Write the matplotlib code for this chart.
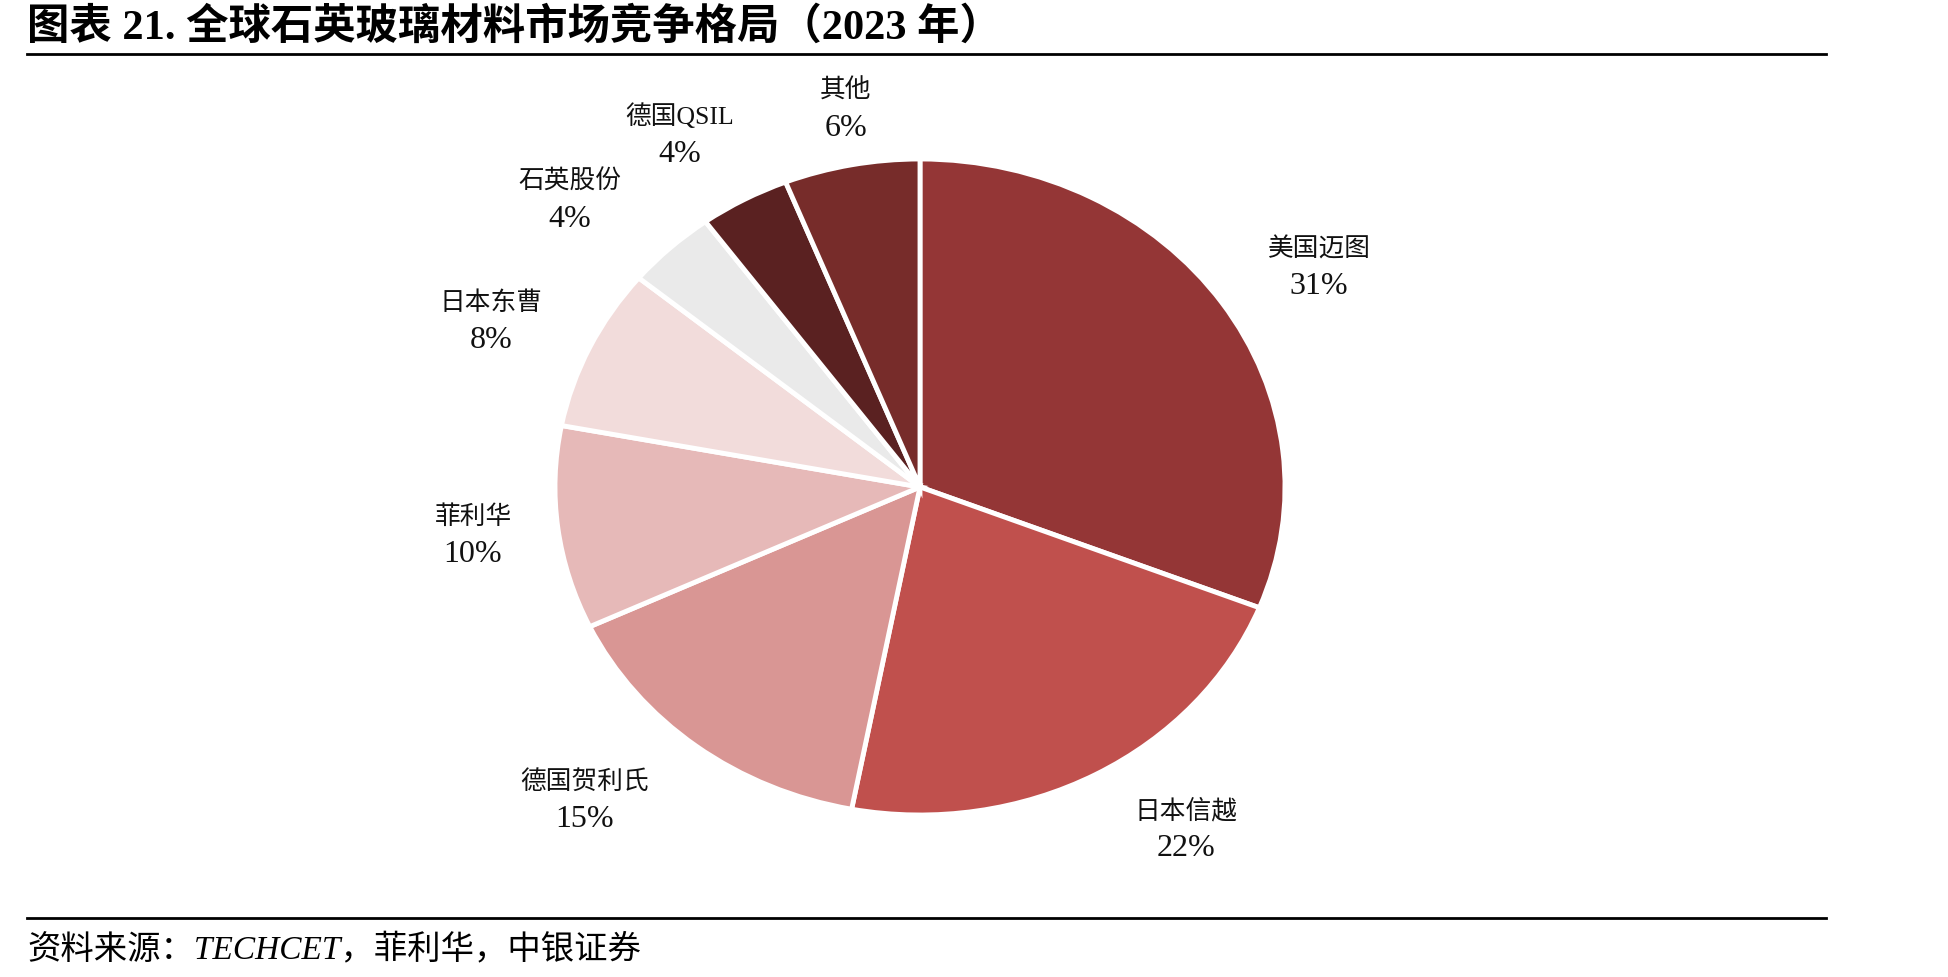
import matplotlib
matplotlib.use("Agg")
import matplotlib.pyplot as plt
from matplotlib.lines import Line2D

plt.rcParams["font.family"] = ["Liberation Serif", "Noto Sans CJK SC"]

# data
companies = ["美国迈图", "日本信越", "德国贺利氏", "菲利华", "日本东曹", "石英股份", "德国QSIL", "其他"]
shares = [31, 22, 15, 10, 8, 4, 4, 6]
colors = ["#943636", "#C0504D", "#D99694", "#E6B9B8", "#F2DCDB", "#EAEAEA", "#5A2121", "#772C2A"]

# label centres in figure pixels (from top-left)
label_pos = [(1319, 268), (1186, 830), (585, 801), (473, 536),
             (491, 322), (570, 201), (680, 135), (846, 110)]

W, H = 1948, 978
fig = plt.figure(figsize=(W / 100, H / 100), dpi=100)

# pie: centre (920, 488) px, radii 365 x 328 px
cx, cy, rx, ry = 920, 488, 365, 328
lim = 1.25
ax = fig.add_axes([(cx - rx * lim) / W, (H - cy - ry * lim) / H,
                   2 * rx * lim / W, 2 * ry * lim / H])
ax.pie(shares, colors=colors, startangle=90, counterclock=False,
       wedgeprops=dict(edgecolor="white", linewidth=3.5))
ax.set_aspect("auto")
ax.set_xlim(-lim, lim)
ax.set_ylim(-lim, lim)
ax.axis("off")

for name, val, (px, py) in zip(companies, shares, label_pos):
    fig.text(px / W, 1 - (py - 19) / H, name, ha="center", va="center",
             fontsize=18.5, color="#111111")
    fig.text(px / W, 1 - (py + 19) / H, f"{val}%", ha="center", va="center",
             fontsize=23, color="#111111")

# title and rules
fig.text(27 / W, 1 - 27 / H, "图表 21. 全球石英玻璃材料市场竞争格局（2023 年）",
         ha="left", va="center", fontsize=30.5, fontweight="bold")
fig.add_artist(Line2D([27 / W, 1826 / W], [1 - 55 / H, 1 - 55 / H], color="black", lw=2))
fig.add_artist(Line2D([27 / W, 1826 / W], [1 - 919 / H, 1 - 919 / H], color="black", lw=2))
fig.text(27 / W, 1 - 949 / H, "资料来源：TECHCET，菲利华，中银证券",
         ha="left", va="center", fontsize=24, style="italic")

fig.savefig("out.png", dpi=100)
